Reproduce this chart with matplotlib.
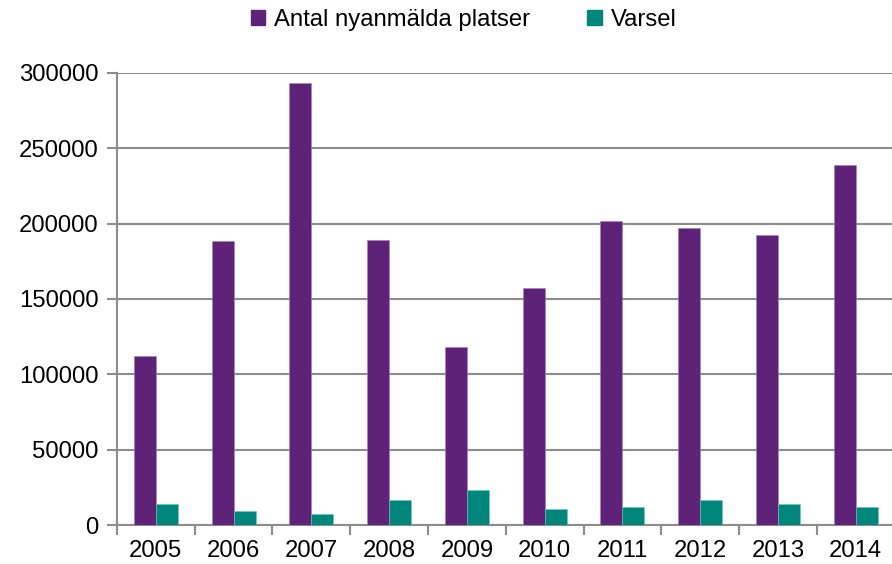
import numpy as np
import matplotlib.pyplot as plt
from matplotlib.patches import Patch

plt.rcParams['font.family'] = ['Liberation Sans', 'DejaVu Sans']

# data
years = ['2005', '2006', '2007', '2008', '2009', '2010', '2011', '2012', '2013', '2014']
platser = [112000, 188500, 293400, 189000, 118100, 157500, 201800, 196900, 192500, 238500]
varsel = [13700, 9300, 7100, 16600, 23400, 10400, 12200, 16600, 13700, 12200]

purple = '#5e2379'
teal = '#00867a'
grid_col = '#8c8c8c'
fs = 17.2

fig = plt.figure(figsize=(8.92, 5.64), dpi=100)
ax = fig.add_axes([0.131, 0.069, 0.872, 0.802])

x = np.arange(len(years))
w = 0.283
ax.bar(x - w / 2, platser, w, color=purple, edgecolor='#a57fbf', linewidth=0.4, zorder=3)
ax.bar(x + w / 2, varsel, w, color=teal, edgecolor='#6cc7bd', linewidth=0.4, zorder=3)

ax.set_xlim(-0.5, len(years) - 0.5)
ax.set_ylim(0, 300000)
ax.set_yticks(np.arange(0, 300001, 50000))
ax.yaxis.grid(True, color=grid_col, linewidth=1.5, zorder=0)

# category labels centred, tick marks on the category borders
ax.set_xticks(x)
ax.set_xticklabels(years)
ax.set_xticks(np.arange(-0.5, len(years)), minor=True)
ax.tick_params(axis='x', which='major', length=0, pad=11, labelsize=fs)
ax.tick_params(axis='x', which='minor', length=7, width=1.5, color=grid_col)
ax.tick_params(axis='y', length=7, width=1.5, color=grid_col, pad=6, labelsize=fs)

for s in ['top', 'right']:
    ax.spines[s].set_visible(False)
for s in ['left', 'bottom']:
    ax.spines[s].set_color(grid_col)
    ax.spines[s].set_linewidth(1.5)

handles = [Patch(color=purple, label='Antal nyanmälda platser'),
           Patch(color=teal, label='Varsel')]
fig.legend(handles=handles, loc='center', bbox_to_anchor=(0.5196, 0.965), ncol=2,
           frameon=False, fontsize=fs, handlelength=0.62, handleheight=0.62,
           handletextpad=0.35, columnspacing=2.4)

fig.savefig('out.png', dpi=100)
